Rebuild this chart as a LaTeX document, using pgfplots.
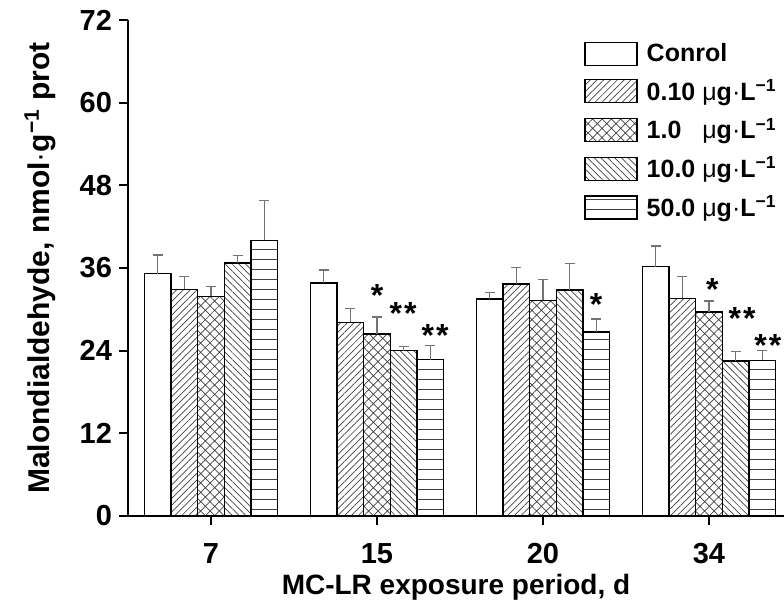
\documentclass[border=0pt]{standalone}
\usepackage{fontspec}
\setmainfont{Liberation Sans}
\usepackage{pgfplots}
\pgfplotsset{compat=1.18}
\usetikzlibrary{patterns.meta}

\pgfplotsset{
  mdabar/.style={
    draw=black, line width=0.7pt,
    legend image code/.code={\draw[##1] (0pt,-5.75pt) rectangle (26pt,5.75pt);},
    error bars/y dir=plus, error bars/y explicit,
    error bars/error bar style={line width=0.6pt, black!55},
    error bars/error mark options={rotate=90, line width=0.6pt, mark size=2.5pt, black!55},
  },
}

\begin{document}
\begin{tikzpicture}
\begin{axis}[
  scale only axis, width=328pt, height=248pt,
  xmin=-0.5, xmax=3.452, ymin=0, ymax=72,
  ybar=0pt, bar width=0.16,
  axis lines*=left, axis line style={line width=1pt,-},
  xtick={0,1,2,3}, xticklabels={7,15,20,34},
  ytick={0,12,...,72},
  tick align=outside, major tick length=4.5pt,
  tick style={line width=1pt, black},
  /pgf/number format/assume math mode=true,
  tick label style={font=\bfseries\fontsize{14.5}{14.5}\selectfont},
  xticklabel style={yshift=-5.5pt},
  label style={font=\bfseries\fontsize{14}{14}\selectfont},
  xlabel={MC-LR exposure period, d},
  ylabel={Malondialdehyde, nmol{\mdseries·}g\textsuperscript{−1} prot},
  xlabel style={at={(axis description cs:0.5,-0.143)}, anchor=center},
  ylabel style={at={(axis description cs:-0.134,0.5)}, anchor=center,
    font=\bfseries\fontsize{15}{15}\selectfont},
  legend style={draw=none, fill=none, at={(0.695,0.962)}, anchor=north west,
    inner sep=0pt, row sep=3.5pt,
    font=\bfseries\fontsize{12.5}{14}\selectfont,
    /tikz/every odd column/.append style={column sep=2.5pt}},
  legend cell align=left,
  clip=false,
]
% Control
\addplot[mdabar, fill=white] coordinates {
  (0,35.2) +- (0,2.7)  (1,33.8) +- (0,1.9)  (2,31.5) +- (0,0.9)  (3,36.2) +- (0,3.0)
};
\addlegendentry{Conrol}
% 0.10
\addplot[mdabar, pattern={Lines[angle=45,distance=2.4pt,line width=0.35pt]}, pattern color=black!75] coordinates {
  (0,32.9) +- (0,1.9)  (1,28.1) +- (0,2.0)  (2,33.7) +- (0,2.4)  (3,31.6) +- (0,3.2)
};
\addlegendentry{0.10 {\mdseries μ}g{\mdseries·}L\textsuperscript{−1}}
% 1.0
\addplot[mdabar, pattern={Hatch[angle=45,distance=3.3pt,line width=0.35pt]}, pattern color=black!75] coordinates {
  (0,31.9) +- (0,1.4)  (1,26.4) +- (0,2.5)  (2,31.3) +- (0,3.0)  (3,29.6) +- (0,1.6)
};
\addlegendentry{1.0\hphantom{0} {\mdseries μ}g{\mdseries·}L\textsuperscript{−1}}
% 10.0
\addplot[mdabar, pattern={Lines[angle=-45,distance=2.4pt,line width=0.35pt]}, pattern color=black!75] coordinates {
  (0,36.7) +- (0,1.1)  (1,24.0) +- (0,0.6)  (2,32.8) +- (0,3.9)  (3,22.5) +- (0,1.4)
};
\addlegendentry{10.0 {\mdseries μ}g{\mdseries·}L\textsuperscript{−1}}
% 50.0
\addplot[mdabar, pattern={Lines[angle=0,distance=5pt,line width=0.35pt]}, pattern color=black!75] coordinates {
  (0,40.0) +- (0,5.8)  (1,22.7) +- (0,2.1)  (2,26.7) +- (0,1.9)  (3,22.6) +- (0,1.4)
};
\addlegendentry{50.0 {\mdseries μ}g{\mdseries·}L\textsuperscript{−1}}

% significance marks
\begin{scope}[every node/.style={font=\bfseries\fontsize{16}{16}\selectfont, anchor=base, inner sep=0pt}]
\node at (axis cs:1.00,30.4) {*};
\node at (axis cs:1.157,27.8) {*\kern1pt*};
\node at (axis cs:1.35,24.6) {*\kern1pt*};
\node at (axis cs:2.32,29.1) {*};
\node at (axis cs:3.02,31.3) {*};
\node at (axis cs:3.20,27.1) {*\kern1pt*};
\node at (axis cs:3.355,23.1) {*\kern1pt*};
\end{scope}
\end{axis}
\pgfresetboundingbox
\path[use as bounding box] ([xshift=-64pt,yshift=-46.5pt]current axis.south west)
  rectangle ([yshift=10pt]current axis.north east);
\end{tikzpicture}
\end{document}
